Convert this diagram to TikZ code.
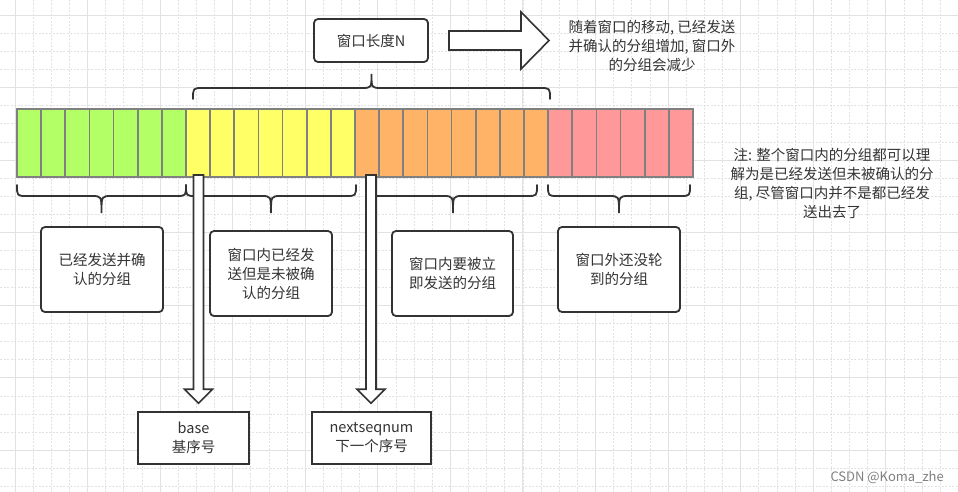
\documentclass[tikz,border=0pt]{standalone}
\usepackage{fontspec}
\setmainfont{Noto Sans CJK SC}
\usepackage{tikz}
\usetikzlibrary{calc}
\definecolor{sentgreen}{RGB}{179,255,102}
\definecolor{winyellow}{RGB}{255,255,102}
\definecolor{sendorange}{RGB}{255,179,102}
\definecolor{outred}{RGB}{255,153,153}
\definecolor{cellgray}{RGB}{128,128,128}
\definecolor{inkgray}{RGB}{51,51,51}
\definecolor{gridgray}{RGB}{226,226,226}
\tikzset{
  cell/.style={draw=cellgray, line width=1.6pt, minimum width=24.14pt, minimum height=68pt, inner sep=0pt},
  txt/.style={font=\fontsize{14.5}{19}\selectfont, text=inkgray, align=center},
  labelbox/.style={txt, draw=inkgray, line width=1.8pt, rounded corners=4pt, fill=white, inner sep=0pt},
  seqbox/.style={txt, draw=inkgray, line width=1.6pt, fill=white, inner sep=0pt},
  bracket/.style={draw=inkgray, line width=1.8pt, line cap=round},
  hollow/.style={draw=inkgray, line width=1.6pt, fill=white},
  gridminor/.style={draw=gridgray, line width=0.7pt, dash pattern=on 2pt off 1.5pt},
  gridmajor/.style={draw=gridgray, line width=0.9pt},
}
\newcommand{\curly}[5]{%
  \draw[bracket] (#1,#3) .. controls (#1,#4) .. ({#1+10},#4)
    -- ({(#1+#2)/2-10},#4) .. controls ({(#1+#2)/2},#4) .. ({(#1+#2)/2},#5)
    .. controls ({(#1+#2)/2},#4) .. ({(#1+#2)/2+10},#4)
    -- ({#2-10},#4) .. controls (#2,#4) .. (#2,#3);}
\newcommand{\hollowdown}[2]{%
  \draw[hollow] let \p1=#1, \p2=#2 in
    (\x1-5pt,\y1) -- (\x1-5pt,\y2+22pt) -- (\x1-14pt,\y2+22pt) -- (\x1,\y2+8pt)
    -- (\x1+14pt,\y2+22pt) -- (\x1+5pt,\y2+22pt) -- (\x1+5pt,\y1) -- cycle;}

\begin{document}
\begin{tikzpicture}[x=1pt, y=-1pt]
\useasboundingbox (0,0) rectangle (958,492);
\fill[white] (0,0) rectangle (958,492);
\foreach \k in {0,...,51} \draw[gridminor] ({15+\k*18.14},0) -- ({15+\k*18.14},492);
\foreach \k in {0,...,26} \draw[gridminor] (0,{15+\k*18.14}) -- (958,{15+\k*18.14});
\foreach \k in {0,4,...,48} \draw[gridmajor] ({15+\k*18.14},0) -- ({15+\k*18.14},492);
\foreach \k in {0,4,...,24} \draw[gridmajor] (0,{15+\k*18.14}) -- (958,{15+\k*18.14});

\foreach \i in {1,...,7} \node[cell, fill=sentgreen] (c\i) at ({17+(\i-0.5)*24.143},143) {};
\foreach \i in {8,...,14} \node[cell, fill=winyellow] (c\i) at ({17+(\i-0.5)*24.143},143) {};
\foreach \i in {15,...,22} \node[cell, fill=sendorange] (c\i) at ({17+(\i-0.5)*24.143},143) {};
\foreach \i in {23,...,28} \node[cell, fill=outred] (c\i) at ({17+(\i-0.5)*24.143},143) {};

\node[labelbox, minimum width=114pt, minimum height=43pt] (winlen) at (371,40.5) {窗口长度N};
\curly{193}{550}{99}{88}{74}
\draw[hollow] (449,31) -- (521,31) -- (521,12) -- (549,40.5) -- (521,69) -- (521,50) -- (449,50) -- cycle;
\node[txt] (movenote) at (652,46) {随着窗口的移动, 已经发送\\并确认的分组增加, 窗口外\\的分组会减少};
\node[txt] (winnote) at (832,183.5) {注: 整个窗口内的分组都可以理\\解为是已经发送但未被确认的分\\组, 尽管窗口内并不是都已经发\\送出去了};

\curly{17}{186}{185}{196}{213}
\curly{186}{356}{185}{196}{213}
\curly{369}{537}{185}{196}{213}
\curly{548}{690}{185}{196}{213}

\node[labelbox, minimum width=122pt, minimum height=85pt] (acked) at (102,269.5) {已经发送并确\\认的分组};
\node[labelbox, minimum width=122pt, minimum height=85pt] (unacked) at (271,273.5) {窗口内已经发\\送但是未被确\\认的分组};
\node[labelbox, minimum width=121pt, minimum height=85pt] (tosend) at (452.5,273.5) {窗口内要被立\\即发送的分组};
\node[labelbox, minimum width=122pt, minimum height=85pt] (outwin) at (619,269.5) {窗口外还没轮\\到的分组};

\node[seqbox, minimum width=111pt, minimum height=52pt] (base) at (193.5,438) {base\\基序号};
\node[seqbox, minimum width=119pt, minimum height=52pt] (nextseq) at (371.5,438) {nextseqnum\\下一个序号};
\coordinate (basept) at (198.5,175);
\coordinate (nextpt) at (371,175);
\hollowdown{(basept)}{(base.north)}
\hollowdown{(nextpt)}{(nextseq.north)}

\node[font=\fontsize{13}{15}\selectfont, text=gray, anchor=east, inner sep=0pt] (csdn) at (944,477) {CSDN @Koma\_zhe};
\end{tikzpicture}
\end{document}
